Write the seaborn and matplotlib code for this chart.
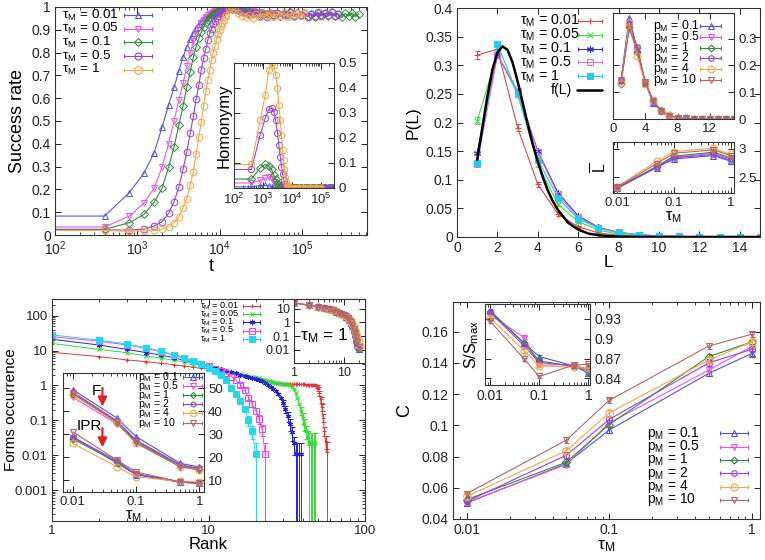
import numpy as np
import matplotlib
matplotlib.use("Agg")
import matplotlib.pyplot as plt
import seaborn as sns
from matplotlib.lines import Line2D
from matplotlib.ticker import FixedLocator, FuncFormatter, LogLocator, NullFormatter, LogFormatterMathtext

# ---------------- data ----------------
# panel A: success rate vs t (t = 400 k for the rising part, then sparse plateau)
t_rise = [1, 400, 800, 1200, 1600, 2000, 2400, 2800, 3200, 3600, 4000, 4400, 4800, 5200, 5600, 6000,
          6400, 6800, 7200, 7600, 8000, 8400, 8800, 9200, 9600, 10000, 10400, 10800, 11200, 11600, 12000]
t_plat = [13000, 14000, 15500, 17000, 19000, 21000, 23000, 25500, 28000, 31000, 34000, 37500, 41000,
          45000, 50000, 55000, 60000, 66000, 72000, 80000, 88000, 97000, 107000, 118000, 130000, 143000,
          157000, 173000, 190000, 210000, 230000, 253000, 278000, 306000, 337000, 370000, 407000, 448000, 490000]
tau_labels = ["0.01", "0.05", "0.1", "0.5", "1"]

succ_001 = [0.083, 0.083, 0.186, 0.27, 0.36, 0.472, 0.569, 0.648, 0.72, 0.78, 0.825, 0.858, 0.885, 0.91, 0.925, 0.94,
            0.95, 0.958, 0.965, 0.97, 0.975, 0.978, 0.981, 0.984, 0.986, 0.988, 0.99, 0.99, 0.991, 0.992, 0.992]
succ_005 = [0.035, 0.035, 0.083, 0.139, 0.205, 0.297, 0.40, 0.50, 0.59, 0.665, 0.74, 0.80, 0.85, 0.885, 0.91, 0.93,
            0.945, 0.955, 0.963, 0.97, 0.975, 0.979, 0.982, 0.985, 0.987, 0.988, 0.989, 0.99, 0.99, 0.991, 0.991]
succ_01 = [0.025, 0.025, 0.054, 0.09, 0.143, 0.205, 0.297, 0.387, 0.482, 0.566, 0.648, 0.716, 0.78, 0.826, 0.862, 0.89,
           0.912, 0.93, 0.945, 0.955, 0.963, 0.97, 0.975, 0.979, 0.982, 0.985, 0.987, 0.988, 0.989, 0.99, 0.99]
succ_05 = [0.022, 0.022, 0.022, 0.025, 0.04, 0.058, 0.095, 0.146, 0.21, 0.288, 0.365, 0.446, 0.52, 0.595, 0.658, 0.724,
           0.775, 0.814, 0.855, 0.885, 0.905, 0.925, 0.94, 0.952, 0.962, 0.97, 0.975, 0.98, 0.983, 0.986, 0.988]
succ_1 = [0.02, 0.02, 0.016, 0.018, 0.02, 0.025, 0.037, 0.054, 0.08, 0.12, 0.16, 0.22, 0.278, 0.355, 0.43, 0.497,
          0.566, 0.63, 0.68, 0.724, 0.768, 0.80, 0.83, 0.858, 0.88, 0.90, 0.918, 0.932, 0.945, 0.955, 0.963]

plat_001 = [0.995, 0.996, 0.997, 0.995, 0.993, 0.99, 0.988, 0.985, 0.983, 0.98, 0.978]
plat_005 = [0.993, 0.995, 0.995, 0.993, 0.99, 0.988, 0.985, 0.982, 0.98, 0.978, 0.975, 0.972, 0.97, 0.972, 0.968]
plat_01 = [0.995, 0.993, 0.99, 0.988, 0.985, 0.98, 0.978, 0.975, 0.972, 0.97, 0.975, 0.968, 0.972, 0.965, 0.975,
           0.962, 0.97, 0.968, 0.976, 0.96, 0.972, 0.965, 0.975, 0.962, 0.97, 0.958, 0.975, 0.965, 0.972, 0.96,
           0.976, 0.962, 0.97, 0.955, 0.972, 0.96, 0.975, 0.958, 0.97]
plat_05 = [0.995, 0.992, 0.99, 0.985, 0.98, 0.975, 0.97, 0.968, 0.975, 0.962, 0.97, 0.958, 0.972, 0.965, 0.975,
           0.96, 0.97, 0.966, 0.978, 0.96, 0.972, 0.964, 0.975, 0.958, 0.97, 0.962, 0.976, 0.96, 0.972, 0.965,
           0.978, 0.96, 0.97]
plat_1 = [0.995, 0.99, 0.985, 0.975, 0.962, 0.955, 0.965, 0.95, 0.968, 0.958, 0.972, 0.96, 0.975, 0.955, 0.97,
          0.962, 0.978, 0.958, 0.97, 0.965, 0.975, 0.96, 0.972]

# inset A: homonymy
homo_001 = [0.005, 0.005, 0.008, 0.01, 0.008, 0.005, 0.003, 0.001, 0, 0, 0, 0, 0, 0, 0, 0,
            0, 0, 0, 0, 0, 0, 0, 0, 0, 0, 0, 0, 0, 0, 0]
homo_005 = [0.02, 0.02, 0.03, 0.04, 0.042, 0.035, 0.025, 0.015, 0.008, 0.004, 0.002, 0, 0, 0, 0, 0,
            0, 0, 0, 0, 0, 0, 0, 0, 0, 0, 0, 0, 0, 0, 0]
homo_01 = [0.036, 0.036, 0.08, 0.094, 0.087, 0.074, 0.05, 0.034, 0.02, 0.01, 0.005, 0.002, 0, 0, 0, 0,
           0, 0, 0, 0, 0, 0, 0, 0, 0, 0, 0, 0, 0, 0, 0]
homo_05 = [0.074, 0.074, 0.21, 0.28, 0.315, 0.32, 0.305, 0.27, 0.22, 0.17, 0.125, 0.085, 0.055, 0.032, 0.017, 0.008,
           0.004, 0.002, 0, 0, 0, 0, 0, 0, 0, 0, 0, 0, 0, 0, 0]
homo_1 = [0.094, 0.094, 0.27, 0.37, 0.47, 0.5, 0.49, 0.45, 0.40, 0.33, 0.27, 0.21, 0.15, 0.11, 0.075, 0.045,
          0.025, 0.012, 0.006, 0.003, 0.001, 0, 0, 0, 0, 0, 0, 0, 0, 0, 0]

# panel B: P(L)
L_vals = [1, 2, 3, 4, 5, 6, 7, 8, 9, 10, 11, 12, 13, 14, 15]
PL_001 = [0.318, 0.328, 0.191, 0.092, 0.04, 0.018, 0.007, 0.003, 0.0012, 0.0005, 0.0002, 0.0001, 0, 0, 0]
PL_005 = [0.203, 0.32, 0.25, 0.127, 0.057, 0.027, 0.012, 0.005, 0.002, 0.001, 0.0005, 0.0002, 0.0001, 0, 0]
PL_01 = [0.147, 0.318, 0.255, 0.15, 0.077, 0.037, 0.017, 0.008, 0.004, 0.002, 0.001, 0.0005, 0.0002, 0.0001, 0]
PL_05 = [0.128, 0.318, 0.255, 0.148, 0.073, 0.034, 0.016, 0.008, 0.004, 0.002, 0.001, 0.0005, 0.0002, 0.0001, 0]
PL_1 = [0.13, 0.337, 0.25, 0.135, 0.068, 0.032, 0.015, 0.007, 0.003, 0.0015, 0.0007, 0.0003, 0.0001, 0.0001, 0]
PL_err_001 = [0.007, 0.006, 0.006, 0.004, 0.003, 0.002, 0.001, 0.001, 0, 0, 0, 0, 0, 0, 0]
PL_err_005 = [0.006, 0.006, 0.005, 0.004, 0.003, 0.002, 0.001, 0.001, 0, 0, 0, 0, 0, 0, 0]
fL_x = [1.0, 1.25, 1.5, 1.75, 2.0, 2.25, 2.5, 2.75, 3.0, 3.25, 3.5, 3.75, 4.0, 4.25, 4.5, 4.75, 5.0,
        5.5, 6.0, 6.5, 7.0, 8.0, 9.0, 10.0, 12.0, 15.0]
fL_y = [0.135, 0.19, 0.245, 0.292, 0.322, 0.333, 0.327, 0.305, 0.272, 0.235, 0.197, 0.162, 0.132, 0.104,
        0.081, 0.062, 0.047, 0.025, 0.013, 0.006, 0.003, 0.0006, 0.0001, 0, 0, 0]

# inset B1: P(L) for several p_M (tau_M = 1)
p_labels = ["0.1", "0.5", "1", "2", "4", "10"]
PLp_01 = [0.145, 0.378, 0.26, 0.135, 0.058, 0.03, 0.012, 0.005, 0.002, 0.001, 0.0005, 0.0003, 0.0002, 0.0001, 0.0001]
PLp_05 = [0.14, 0.35, 0.255, 0.137, 0.065, 0.031, 0.013, 0.005, 0.002, 0.001, 0.0005, 0.0003, 0.0002, 0.0001, 0.0001]
PLp_1 = [0.13, 0.345, 0.25, 0.14, 0.067, 0.032, 0.013, 0.005, 0.002, 0.001, 0.0005, 0.0003, 0.0002, 0.0001, 0.0001]
PLp_2 = [0.145, 0.355, 0.27, 0.135, 0.062, 0.03, 0.012, 0.005, 0.002, 0.001, 0.0005, 0.0003, 0.0002, 0.0001, 0.0001]
PLp_4 = [0.135, 0.36, 0.235, 0.132, 0.07, 0.03, 0.014, 0.005, 0.002, 0.001, 0.0005, 0.0003, 0.0002, 0.0001, 0.0001]
PLp_10 = [0.145, 0.335, 0.265, 0.138, 0.068, 0.031, 0.013, 0.005, 0.002, 0.001, 0.0005, 0.0003, 0.0002, 0.0001, 0.0001]

# tau_M grid used by B2, C1, D
tau_vals = [0.01, 0.05, 0.1, 0.5, 1.0]
Lbar_01 = [2.30, 2.67, 2.82, 2.88, 2.78]
Lbar_05 = [2.31, 2.68, 2.85, 2.92, 2.82]
Lbar_1 = [2.31, 2.69, 2.87, 2.94, 2.84]
Lbar_2 = [2.30, 2.68, 2.84, 2.90, 2.80]
Lbar_4 = [2.33, 2.78, 2.95, 3.01, 2.90]
Lbar_10 = [2.32, 2.74, 2.92, 2.98, 2.88]

# panel C: forms occurrence vs rank
occ_001 = [8.9, 6.7, 5.4, 4.8, 4.3, 3.9, 3.6, 3.3, 3.1, 2.9,
           2.7, 2.55, 2.4, 2.25, 2.1, 2.0, 1.9, 1.8, 1.7, 1.6,
           1.52, 1.45, 1.4, 1.35, 1.3, 1.25, 1.21, 1.18, 1.15, 1.13,
           1.12, 1.11, 1.1, 1.1, 1.09, 1.09, 1.08, 1.08, 1.08, 1.07,
           1.07, 1.06, 1.06, 1.05, 1.05, 1.04, 1.03, 1.0, 0.95, 0.8,
           0.6, 0.4, 0.24, 0.12, 0.05, 0.025, 0.012]
occ_005 = [16, 10.8, 8.7, 7.0, 6.0, 5.3, 4.7, 4.2, 3.8, 3.5,
           3.2, 2.9, 2.7, 2.5, 2.3, 2.15, 2.0, 1.9, 1.8, 1.7,
           1.6, 1.5, 1.42, 1.35, 1.28, 1.22, 1.18, 1.15, 1.13, 1.12,
           1.1, 1.08, 1.0, 0.9, 0.78, 0.62, 0.45, 0.3, 0.19, 0.12,
           0.08, 0.05, 0.034, 0.022, 0.022, 0.022, 0.022, 0.022]
occ_01 = [21, 14.4, 10.8, 8.7, 7.4, 6.2, 5.3, 4.7, 4.1, 3.6,
          3.2, 2.9, 2.6, 2.4, 2.2, 2.05, 1.9, 1.8, 1.68, 1.55,
          1.42, 1.3, 1.2, 1.05, 0.92, 0.8, 0.68, 0.56, 0.44, 0.32,
          0.21, 0.13, 0.08, 0.045, 0.022, 0.011, 0.011, 0.011, 0.011]
occ_05 = [25, 18.5, 14.5, 11.5, 9.2, 7.4, 6.1, 5.0, 4.2, 3.5,
          3.0, 2.6, 2.2, 1.8, 1.4, 1.05, 0.72, 0.45, 0.3, 0.19,
          0.11, 0.055, 0.011]
occ_1 = [28, 20, 15.4, 12.1, 9.6, 7.6, 6.2, 5.0, 4.0, 3.2,
         2.6, 2.0, 1.4, 0.85, 0.55, 0.35, 0.21, 0.1, 0.05, 0.011]
occ_err_001 = [0.04, 0.05, 0.06, 0.08, 0.1, 0.1, 0.08, 0.06, 0.03, 0.015, 0.01, 0.012]
occ_err_005 = [0.05, 0.04, 0.03, 0.02, 0.015, 0.022, 0.022, 0.022, 0.022, 0.022]
occ_err_01 = [0.06, 0.05, 0.04, 0.03, 0.02, 0.012, 0.011, 0.011, 0.011, 0.011]
occ_err_05 = [0.12, 0.1, 0.08, 0.06, 0.04, 0.03, 0.02, 0.011]
occ_err_1 = [0.12, 0.1, 0.08, 0.06, 0.04, 0.03, 0.02, 0.011]

# inset C2: tau_M = 1, several p_M
occp_01 = [25, 17, 13.5, 11, 9, 7.3, 6, 4.9, 4, 3.2, 2.6, 2.0, 1.4, 0.9, 0.55, 0.3, 0.15, 0.07, 0.03, 0.012]
occp_05 = [26, 18, 14, 11.2, 9.1, 7.4, 6.1, 5, 4.1, 3.3, 2.7, 2.1, 1.5, 1.0, 0.6, 0.33, 0.17, 0.08, 0.035, 0.012]
occp_1 = [26, 17.5, 13.8, 11.1, 9.0, 7.3, 6.0, 4.9, 4.0, 3.2, 2.6, 2.0, 1.45, 0.95, 0.58, 0.32, 0.16, 0.075, 0.03, 0.011]
occp_2 = [25.5, 17.8, 13.9, 11.2, 9.1, 7.4, 6.1, 5.0, 4.1, 3.3, 2.6, 2.0, 1.4, 0.9, 0.5, 0.25, 0.1, 0.04, 0.015]
occp_4 = [26, 18, 14, 11.3, 9.2, 7.5, 6.2, 5.1, 4.2, 3.4, 2.8, 2.2, 1.7, 1.2, 0.8, 0.5, 0.3, 0.17, 0.09, 0.045, 0.02]
occp_10 = [26.5, 18, 14, 11.2, 9.1, 7.4, 6.1, 5.0, 4.1, 3.3, 2.7, 2.1, 1.5, 1.0, 0.6, 0.33, 0.17, 0.08, 0.035, 0.015]

# inset C1: F and IPR vs tau_M
F_01 = [49.3, 37.0, 29.0, 17.4, 15.8]
F_05 = [46.0, 34.5, 26.5, 16.2, 14.8]
F_1 = [47.5, 35.5, 27.0, 16.5, 15.0]
F_2 = [48.3, 35.8, 27.5, 16.8, 15.2]
F_4 = [47.0, 35.0, 26.0, 16.0, 14.6]
F_10 = [47.8, 35.2, 26.3, 15.9, 14.5]
IPR_01 = [29.0, 17.5, 12.5, 9.2, 8.8]
IPR_05 = [28.5, 18.0, 13.0, 9.3, 8.8]
IPR_1 = [28.0, 17.8, 12.8, 9.4, 8.9]
IPR_2 = [28.8, 18.5, 12.6, 9.3, 8.7]
IPR_4 = [26.0, 15.9, 11.6, 9.6, 9.3]
IPR_10 = [31.0, 18.8, 13.7, 9.4, 9.0]

# panel D: C vs tau_M
C_01 = [0.0503, 0.0755, 0.097, 0.1333, 0.146]
C_05 = [0.0507, 0.0749, 0.1015, 0.1354, 0.1504]
C_1 = [0.0524, 0.0764, 0.1005, 0.1440, 0.1534]
C_2 = [0.0513, 0.0808, 0.1038, 0.1400, 0.1487]
C_4 = [0.0545, 0.0838, 0.1080, 0.1418, 0.1534]
C_10 = [0.0563, 0.0905, 0.1160, 0.1508, 0.1583]
C_err = 0.0018

# inset D: S/Smax vs tau_M
S_01 = [0.9425, 0.893, 0.873, 0.859, 0.848]
S_05 = [0.9365, 0.9015, 0.860, 0.861, 0.852]
S_1 = [0.941, 0.893, 0.8665, 0.858, 0.8515]
S_2 = [0.940, 0.889, 0.864, 0.859, 0.854]
S_4 = [0.9315, 0.8815, 0.859, 0.857, 0.855]
S_10 = [0.9265, 0.869, 0.843, 0.860, 0.8615]
S_err = 0.0025

# ---------------- style ----------------
sns.set_theme(style="ticks")
plt.rcParams["font.family"] = ["Liberation Sans", "DejaVu Sans"]
plt.rcParams.update({
    "mathtext.fontset": "custom",
    "mathtext.rm": "Liberation Sans",
    "mathtext.it": "Liberation Sans:italic",
    "text.color": "black",
    "axes.labelcolor": "black",
    "xtick.color": "#222222",
    "ytick.color": "#222222",
    "axes.edgecolor": "#333333",
    "axes.linewidth": 0.8,
})

A_cols = ["#5555ee", "#ee55ee", "#2e8b3a", "#9a40d8", "#f5a54a"]
A_mk = ["^", "v", "D", "o", "o"]
B_cols = ["#e04848", "#44dd44", "#3333cc", "#e070e0", "#22ccee"]
C_cols = ["#e03838", "#33dd33", "#2222dd", "#ee44ee", "#22d8ee"]
T_mk = ["+", "x", (6, 2, 0), "s", "s"]
T_fill = [True, True, True, False, True]
P_cols = ["#5050e0", "#ee50ee", "#2e8b3a", "#9a40d8", "#f5a54a", "#b06868"]
P_mk = ["^", "v", "D", "o", "o", "v"]
P_ms = [4.5, 4.5, 3.5, 4, 5, 4.5]

W, H = 765, 560
fig = plt.figure(figsize=(W / 100, H / 100), dpi=100)


def add_ax(l, r, t, b):
    return fig.add_axes([l / W, 1 - b / H, (r - l) / W, (b - t) / H])


def style(ax, fs, right_labels=False):
    ax.tick_params(which="both", direction="in", top=True, right=True, labelsize=fs, pad=3)
    ax.tick_params(which="major", length=4, width=0.7)
    ax.tick_params(which="minor", length=2.2, width=0.6)
    if right_labels:
        ax.tick_params(labelleft=False, labelright=True)
    for s in ax.spines.values():
        s.set_linewidth(0.8)
        s.set_color("#333333")


def curve(ax, x, y, color, marker, ms=4.5, fill=False, lw=0.8, mew=0.8, yerr=None):
    sns.lineplot(x=np.asarray(x, float), y=np.asarray(y, float), ax=ax, color=color, marker=marker,
                 markersize=ms, markeredgecolor=color, markerfacecolor=color if fill else "none",
                 markeredgewidth=mew, linewidth=lw, estimator=None, sort=False, legend=False)
    if yerr is not None:
        ax.errorbar(x, y, yerr=yerr, fmt="none", ecolor=color, elinewidth=0.7, capsize=1.8, capthick=0.7)


def key(labels, cols, mks, sizes, fills, x_text, x0, x1, y0, dy, fs):
    # gnuplot-like key: left-aligned text, then a short errorbar sample with the point in its middle
    for k, lab in enumerate(labels):
        yy = 1 - (y0 + k * dy) / H
        fig.text(x_text / W, yy, lab, fontsize=fs, ha="left", va="center")
        fig.add_artist(Line2D([x0 / W, x1 / W], [yy, yy], transform=fig.transFigure, color=cols[k],
                              lw=0.8, marker="|", markersize=3.5, markeredgewidth=0.8))
        fig.add_artist(Line2D([(x0 + x1) / 2 / W], [yy], transform=fig.transFigure, color=cols[k],
                              marker=mks[k], markersize=sizes[k], markeredgecolor=cols[k],
                              markerfacecolor=cols[k] if fills[k] else "none", markeredgewidth=0.8))


gfmt = FuncFormatter(lambda v, p: f"{v:g}")
tauM = "τ$_\\mathregular{M}$"
pM = "p$_\\mathregular{M}$"

# ---------------- panel A ----------------
axA = add_ax(55, 367, 7, 235)
succ = [succ_001, succ_005, succ_01, succ_05, succ_1]
plats = [plat_001, plat_005, plat_01, plat_05, plat_1]
for i in range(5):
    x = t_rise + t_plat[:len(plats[i])]
    y = succ[i] + plats[i]
    curve(axA, x, y, A_cols[i], A_mk[i], ms=4 if i < 3 else 4.8, mew=0.7)
axA.set_xscale("log")
axA.set_xlim(100, 6.2e5)
axA.set_ylim(0, 1)
axA.yaxis.set_major_locator(FixedLocator(np.arange(0, 1.01, 0.1)))
axA.yaxis.set_major_formatter(gfmt)
axA.xaxis.set_major_locator(FixedLocator([1e2, 1e3, 1e4, 1e5]))
axA.xaxis.set_major_formatter(LogFormatterMathtext())
style(axA, 10)
axA.set_xlabel("t", fontsize=13, labelpad=0)
axA.set_ylabel("Success rate", fontsize=13, labelpad=4)
key([f"{tauM} = {s}" for s in tau_labels], A_cols, A_mk, [4.5, 4.5, 4, 5, 5.5], [False] * 5,
    62, 124, 152, 15, 13.7, 9.7)

axAi = add_ax(234, 334, 63, 188)
homo = [homo_001, homo_005, homo_01, homo_05, homo_1]
for i in range(5):
    x = t_rise + t_plat[:len(plats[i])]
    y = homo[i] + [0.0] * len(plats[i])
    curve(axAi, x, y, A_cols[i], A_mk[i], ms=3.8 if i < 3 else 4.5, mew=0.7)
axAi.set_xscale("log")
axAi.set_xlim(100, 2.9e5)
axAi.set_ylim(0, 0.5)
axAi.yaxis.set_major_locator(FixedLocator([0, 0.1, 0.2, 0.3, 0.4, 0.5]))
axAi.yaxis.set_major_formatter(gfmt)
axAi.xaxis.set_major_locator(FixedLocator([1e2, 1e3, 1e4, 1e5]))
axAi.xaxis.set_major_formatter(LogFormatterMathtext())
axAi.xaxis.set_minor_locator(LogLocator(base=10, subs=np.arange(2, 10), numticks=20))
style(axAi, 9.5, right_labels=True)
axAi.set_ylabel("Homonymy", fontsize=12, labelpad=2)

# ---------------- panel B ----------------
axB = add_ax(457, 760, 8, 237)
PL = [PL_001, PL_005, PL_01, PL_05, PL_1]
PLerr = [PL_err_001, PL_err_005, None, None, None]
for i in range(5):
    curve(axB, L_vals, PL[i], B_cols[i], T_mk[i], ms=4.5 if i != 2 else 5, fill=T_fill[i], yerr=PLerr[i])
sns.lineplot(x=fL_x, y=fL_y, ax=axB, color="black", linewidth=1.8, estimator=None, sort=False, legend=False)
axB.set_xlim(0, 15)
axB.set_ylim(0, 0.4)
axB.xaxis.set_major_locator(FixedLocator(range(0, 16, 2)))
axB.yaxis.set_major_locator(FixedLocator(np.arange(0, 0.401, 0.05)))
axB.yaxis.set_major_formatter(gfmt)
style(axB, 10)
axB.set_xlabel("L", fontsize=12.5, labelpad=0)
axB.set_ylabel("P(L)", fontsize=12.5, labelpad=4)
key([f"{tauM} = {s}" for s in tau_labels], B_cols, T_mk, [4.5, 4.5, 5, 4.5, 4.5], T_fill,
    520, 578, 602, 20.7, 13.9, 10.2)
fig.text(572 / W, 1 - 90 / H, "f(L)", fontsize=10.2, ha="right", va="center")
fig.add_artist(Line2D([577 / W, 602 / W], [1 - 90 / H] * 2, transform=fig.transFigure, color="black", lw=1.8))

axB1 = add_ax(613, 734, 13, 119)
PLp = [PLp_01, PLp_05, PLp_1, PLp_2, PLp_4, PLp_10]
for i in range(6):
    curve(axB1, L_vals, PLp[i], P_cols[i], P_mk[i], ms=P_ms[i])
axB1.set_xlim(0, 15)
axB1.set_ylim(0, 0.396)
axB1.xaxis.set_major_locator(FixedLocator([0, 4, 8, 12]))
axB1.yaxis.set_major_locator(FixedLocator([0, 0.1, 0.2, 0.3]))
axB1.yaxis.set_major_formatter(gfmt)
style(axB1, 9.5, right_labels=True)
key([f"{pM} = {s}" for s in p_labels], P_cols, P_mk, P_ms, [False] * 6,
    653, 700, 721, 25.7, 10.9, 8.8)

axB2 = add_ax(613, 734, 142, 193)
Lbar = [Lbar_01, Lbar_05, Lbar_1, Lbar_2, Lbar_4, Lbar_10]
for i in range(6):
    curve(axB2, tau_vals, Lbar[i], P_cols[i], P_mk[i], ms=P_ms[i])
axB2.set_xscale("log")
axB2.set_xlim(0.0085, 1.15)
axB2.set_ylim(2.22, 3.12)
axB2.xaxis.set_major_locator(FixedLocator([0.01, 0.1, 1]))
axB2.xaxis.set_major_formatter(gfmt)
axB2.yaxis.set_major_locator(FixedLocator([2.5, 3]))
axB2.yaxis.set_major_formatter(gfmt)
style(axB2, 9.5, right_labels=True)
axB2.set_xlabel(tauM, fontsize=11.5, labelpad=0)
axB2.set_ylabel("$\\overline{\\mathregular{L}}$", fontsize=11.5, labelpad=2)

# ---------------- panel C ----------------
axC = add_ax(52, 365, 299, 521)
occ = [occ_001, occ_005, occ_01, occ_05, occ_1]
occ_err = [occ_err_001, occ_err_005, occ_err_01, occ_err_05, occ_err_1]
for i in range(5):
    ranks = np.arange(1, len(occ[i]) + 1)
    err = np.concatenate([np.zeros(len(occ[i]) - len(occ_err[i])), occ_err[i]])
    curve(axC, ranks, occ[i], C_cols[i], T_mk[i], ms=3.5 if i < 3 else 4, fill=T_fill[i], lw=0.7,
          yerr=np.where(err > 0, err, np.nan))
axC.set_xscale("log")
axC.set_yscale("log")
axC.set_xlim(1, 100)
axC.set_ylim(1.3e-4, 300)
axC.xaxis.set_major_formatter(gfmt)
axC.yaxis.set_major_locator(FixedLocator([0.001, 0.01, 0.1, 1, 10, 100]))
axC.yaxis.set_major_formatter(gfmt)
axC.yaxis.set_minor_formatter(NullFormatter())
style(axC, 9.5)
axC.set_xlabel("Rank", fontsize=12, labelpad=0)
axC.set_ylabel("Forms occurrence", fontsize=11)
axC.yaxis.set_label_coords(-0.108, 0.5)
key([f"{tauM} = {s}" for s in tau_labels], C_cols, T_mk, [3.5, 3.5, 4, 4, 4], T_fill,
    200, 243, 260, 306, 8.2, 6.6)

axC1 = add_ax(63, 204, 373, 492)
Fs = [F_01, F_05, F_1, F_2, F_4, F_10]
IPRs = [IPR_01, IPR_05, IPR_1, IPR_2, IPR_4, IPR_10]
for i in range(6):
    curve(axC1, tau_vals, Fs[i], P_cols[i], P_mk[i], ms=P_ms[i])
    curve(axC1, tau_vals, IPRs[i], P_cols[i], P_mk[i], ms=P_ms[i])
axC1.set_xscale("log")
axC1.set_xlim(0.007, 1.19)
axC1.set_ylim(5, 56.5)
axC1.xaxis.set_major_locator(FixedLocator([0.01, 0.1, 1]))
axC1.xaxis.set_major_formatter(gfmt)
axC1.yaxis.set_major_locator(FixedLocator([10, 20, 30, 40, 50]))
style(axC1, 9.5, right_labels=True)
axC1.set_xlabel(tauM, fontsize=11.5, labelpad=0)
arrow = dict(arrowstyle="-|>,head_width=0.22,head_length=0.45", color="#e02020", lw=1.6, shrinkA=0, shrinkB=0)
axC1.annotate("", xy=(0.0294, 42.0), xytext=(0.0294, 50.0), arrowprops=arrow)
axC1.annotate("", xy=(0.0294, 24.3), xytext=(0.0294, 32.6), arrowprops=arrow)
axC1.text(0.0233, 48.8, "F", fontsize=11, ha="center", va="center")
axC1.text(0.0181, 33.7, "IPR", fontsize=11, ha="center", va="center")
key([f"{pM} = {s}" for s in p_labels], P_cols, P_mk, [s - 0.5 for s in P_ms], [False] * 6,
    138, 183, 202, 377, 9.1, 7.6)

axC2 = add_ax(294, 365, 299, 363)
occp = [occp_01, occp_05, occp_1, occp_2, occp_4, occp_10]
for i in range(6):
    curve(axC2, np.arange(1, len(occp[i]) + 1), occp[i], P_cols[i], P_mk[i], ms=P_ms[i], lw=0.7)
axC2.set_xscale("log")
axC2.set_yscale("log")
axC2.set_xlim(1, 27)
axC2.set_ylim(1.1e-3, 50)
axC2.xaxis.set_major_locator(FixedLocator([1, 10]))
axC2.xaxis.set_major_formatter(gfmt)
axC2.xaxis.set_minor_formatter(NullFormatter())
axC2.yaxis.set_major_locator(FixedLocator([0.01, 0.1, 1, 10]))
axC2.yaxis.set_major_formatter(gfmt)
axC2.yaxis.set_minor_formatter(NullFormatter())
style(axC2, 9)
axC2.text(0.42, 0.42, f"{tauM} = 1", fontsize=12.5, ha="center", va="center", transform=axC2.transAxes)

# ---------------- panel D ----------------
axD = add_ax(453, 760, 302, 519)
Cs = [C_01, C_05, C_1, C_2, C_4, C_10]
for i in range(6):
    curve(axD, tau_vals, Cs[i], P_cols[i], P_mk[i], ms=P_ms[i] + 0.5, lw=0.8, yerr=C_err)
axD.set_xscale("log")
axD.set_xlim(0.008, 1.145)
axD.set_ylim(0.04, 0.179)
axD.xaxis.set_major_locator(FixedLocator([0.01, 0.1, 1]))
axD.xaxis.set_major_formatter(gfmt)
axD.yaxis.set_major_locator(FixedLocator(np.arange(0.04, 0.161, 0.02)))
axD.yaxis.set_major_formatter(gfmt)
style(axD, 10)
axD.set_xlabel(tauM, fontsize=12.5, labelpad=1)
axD.set_ylabel("C", fontsize=13, labelpad=6)
key([f"{pM} = {s}" for s in p_labels], P_cols, P_mk, P_ms, [False] * 6,
    647, 720, 748, 433.3, 13.3, 10)

axDi = add_ax(485, 590, 304, 385)
Ss = [S_01, S_05, S_1, S_2, S_4, S_10]
for i in range(6):
    curve(axDi, tau_vals, Ss[i], P_cols[i], P_mk[i], ms=P_ms[i], yerr=S_err)
axDi.set_xscale("log")
axDi.set_xlim(0.0079, 1.08)
axDi.set_ylim(0.83, 0.9525)
axDi.xaxis.set_major_locator(FixedLocator([0.01, 0.1, 1]))
axDi.xaxis.set_major_formatter(gfmt)
axDi.yaxis.set_major_locator(FixedLocator([0.84, 0.87, 0.9, 0.93]))
axDi.yaxis.set_major_formatter(gfmt)
style(axDi, 10, right_labels=True)
axDi.set_ylabel("S/S$_\\mathregular{max}$", fontsize=11.5, labelpad=3)

fig.savefig("out.png", dpi=100)
